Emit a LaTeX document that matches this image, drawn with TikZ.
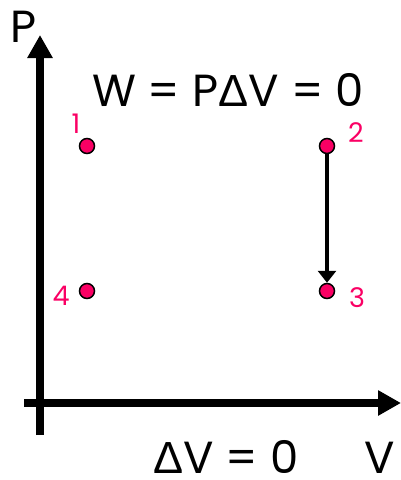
\documentclass[tikz,border=0pt]{standalone}
\usepackage{fontspec}
\setmainfont{Poppins}
\newfontfamily\deltafont{Liberation Sans}
\usetikzlibrary{arrows.meta}
\definecolor{pt}{RGB}{250,0,100}
\begin{document}
\begin{tikzpicture}[x=1pt,y=-1pt,
  dot/.style={circle,draw=black,line width=1.5pt,fill=pt,inner sep=0pt,minimum size=15pt},
  lbl/.style={text=pt,font=\fontsize{27}{27}\selectfont,inner sep=0pt,anchor=base},
  big/.style={font=\fontsize{45}{45}\selectfont,inner sep=0pt,anchor=base},
  axis/.style={line width=8pt,-{Triangle[length=23pt,width=24pt]}}]
\useasboundingbox (0,0) rectangle (401,480);
\coordinate (ybot) at (40,435);
\coordinate (ytop) at (40,35);
\coordinate (xl) at (24,403);
\coordinate (xr) at (401,403);
\draw[axis] (ybot) -- (ytop);
\draw[axis] (xl) -- (xr);
\node[dot] (p1) at (87,146) {};
\node[dot] (p2) at (327,146) {};
\node[dot] (p3) at (327,291) {};
\node[dot] (p4) at (87,291) {};
\node[lbl] (l1) at (76,133) {1};
\node[lbl] (l2) at (356,142) {2};
\node[lbl] (l3) at (357,307) {3};
\node[lbl] (l4) at (61,305) {4};
\draw[line width=4.5pt,-{Triangle[length=12pt,width=18pt]}] (p2) -- (p3);
\node[big] (P) at (24,42) {P};
\node[big] (W) at (228,106) {W = P{\deltafont Δ}V = 0};
\node[big] (dv) at (226,473) {{\deltafont Δ}V = 0};
\node[big] (V) at (380,473) {V};
\end{tikzpicture}
\end{document}
